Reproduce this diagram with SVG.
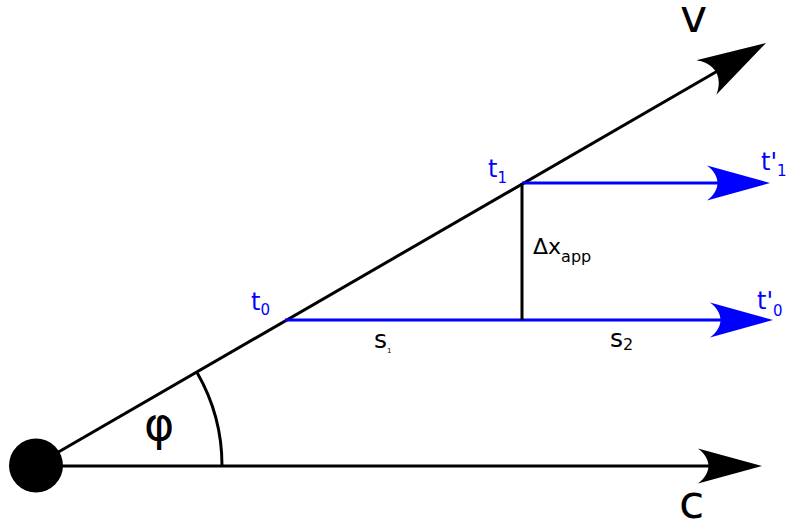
<svg xmlns="http://www.w3.org/2000/svg" width="789" height="525" viewBox="0 0 789 525">
<style>
.k{stroke:#000;stroke-width:3;fill:none}
.b{stroke:#0000ff;stroke-width:3;fill:none}
text{font-family:"DejaVu Sans",sans-serif}
.bt{fill:#0000ff}
.kt{fill:#000}
</style>
<defs>
<marker id="ak" markerUnits="userSpaceOnUse" orient="auto" markerWidth="120" markerHeight="60" refX="0" refY="0" viewBox="-60 -30 120 60" overflow="visible">
<path d="M20,0 L-44,-17.5 C-30,-7 -30,7 -44,17.5 Z" fill="#000"/>
</marker>
<marker id="av" markerUnits="userSpaceOnUse" orient="auto" markerWidth="120" markerHeight="60" refX="0" refY="0" viewBox="-60 -30 120 60" overflow="visible">
<path d="M20,0 L-49,-20 C-34,-8 -34,8 -49,20 Z" fill="#000"/>
</marker>
<marker id="ab" markerUnits="userSpaceOnUse" orient="auto" markerWidth="120" markerHeight="60" refX="0" refY="0" viewBox="-60 -30 120 60" overflow="visible">
<path d="M20,0 L-43,-17.5 C-29,-7 -29,7 -43,17.5 Z" fill="#0000ff"/>
</marker>
</defs>
<g id="connectors">
<line id="v-axis" class="k" x1="36" y1="465" x2="748.7" y2="53" marker-end="url(#av)"/>
<line id="c-axis" class="k" x1="36" y1="466" x2="742" y2="466" marker-end="url(#ak)"/>
<line id="t0-ray" class="b" x1="285" y1="320" x2="753" y2="320" marker-end="url(#ab)"/>
<line id="t1-ray" class="b" x1="522" y1="183" x2="750" y2="183" marker-end="url(#ab)"/>
<line id="dx" class="k" x1="522" y1="183" x2="522" y2="320"/>
<path id="phi-arc" class="k" d="M197,372.5 A186,186 0 0 1 222,466"/>
</g>
<g id="origin"><circle cx="36" cy="465.5" r="27" fill="#000"/></g>
<g id="label-v"><text class="kt" x="680" y="32" font-size="46">v</text></g>
<g id="label-c"><text class="kt" x="679" y="518" font-size="46">c</text></g>
<g id="label-phi"><text class="kt" x="144" y="440" font-size="46">φ</text></g>
<g id="label-t0"><text class="bt" x="251" y="310" font-size="24">t<tspan font-size="15" dy="5">0</tspan></text></g>
<g id="label-t1"><text class="bt" x="488" y="177" font-size="24">t<tspan font-size="15" dy="6">1</tspan></text></g>
<g id="label-t1p"><text class="bt" x="761" y="170" font-size="24">t'<tspan font-size="15" dy="6">1</tspan></text></g>
<g id="label-t0p"><text class="bt" x="757" y="309" font-size="24">t'<tspan font-size="15" dy="7">0</tspan></text></g>
<g id="label-dx"><text class="kt" x="533" y="254" font-size="22">Δx<tspan font-size="16" dy="8">app</tspan></text></g>
<g id="label-s1"><text class="kt" x="374" y="348" font-size="25">s<tspan font-size="7" dy="5">1</tspan></text></g>
<g id="label-s2"><text class="kt" x="610" y="347" font-size="25">s<tspan font-size="16" dy="3">2</tspan></text></g>
</svg>
